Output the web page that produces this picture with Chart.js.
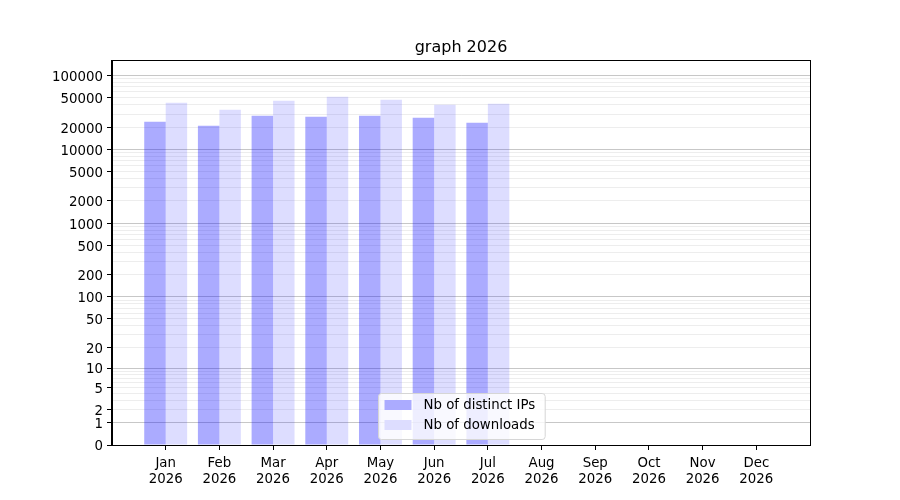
<!DOCTYPE html>
<html>
<head>
<meta charset="utf-8">
<title>graph 2026</title>
<script src="https://cdn.jsdelivr.net/npm/chart.js@4.4.1/dist/chart.umd.min.js"></script>
<style>
  html, body { margin: 0; padding: 0; background: #fff; }
  #wrap { width: 900px; height: 500px; }
</style>
</head>
<body>
<div id="wrap"><canvas id="graph"></canvas></div>
<script>
// values
const months = ['Jan', 'Feb', 'Mar', 'Apr', 'May', 'Jun', 'Jul', 'Aug', 'Sep', 'Oct', 'Nov', 'Dec'];
const yearLabel = '2026';
const distinctIps = [23600, 20900, 28500, 27600, 28500, 26800, 22900];
const downloads = [42700, 34400, 45500, 51500, 46900, 40200, 41400];
const yTickLabels = [0, 1, 2, 5, 10, 20, 50, 100, 200, 500, 1000, 2000, 5000, 10000, 20000, 50000, 100000];
const yMax = 161700;

const FONT = 'DejaVu Sans';

// the y axis is log10(v + 1), so data go through this before plotting
const tr = v => Math.log10(v + 1);

// every grid line: 0, then 1..9 of each decade
const yGrid = [0];
for (let d = 0; d <= 5; d++) {
  for (let k = 1; k <= 9; k++) {
    const v = k * Math.pow(10, d);
    if (v <= yMax) yGrid.push(v);
  }
}

const isDecade = v => v >= 1 && Math.abs(Math.log10(v) % 1) < 1e-9;

// legend in a box at the bottom centre of the plot, like matplotlib's
const boxLegend = {
  id: 'boxLegend',
  afterDraw(chart) {
    const { ctx, chartArea } = chart;
    const items = chart.data.datasets.map(ds => ({ label: ds.label, color: ds.backgroundColor }));
    ctx.save();
    ctx.font = '13.33px "' + FONT + '"';
    const textW = Math.max(...items.map(it => ctx.measureText(it.label).width));
    const w = 45 + textW + 10;
    const h = 46;
    const x = Math.round((chartArea.left + chartArea.right) / 2 - w / 2) + 0.5;
    const y = Math.round(chartArea.bottom - 6 - h) + 0.5;

    ctx.beginPath();
    if (ctx.roundRect) ctx.roundRect(x, y, w, h, 3);
    else ctx.rect(x, y, w, h);
    ctx.fillStyle = 'rgba(255,255,255,0.8)';
    ctx.fill();
    ctx.strokeStyle = '#d6d6d6';
    ctx.lineWidth = 1;
    ctx.stroke();

    ctx.textBaseline = 'middle';
    ctx.textAlign = 'left';
    items.forEach((it, i) => {
      const cy = y + 11.5 + i * 20;
      ctx.fillStyle = '#fff';
      ctx.fillRect(x + 6, cy - 5, 27, 10);
      ctx.fillStyle = it.color;
      ctx.fillRect(x + 6, cy - 5, 27, 10);
      ctx.fillStyle = '#000';
      ctx.fillText(it.label, x + 45, cy + 1);
    });
    ctx.restore();
  }
};

// black frame on all four sides
const frame = {
  id: 'frame',
  afterDatasetsDraw(chart) {
    const { ctx, chartArea } = chart;
    ctx.save();
    ctx.strokeStyle = '#000';
    ctx.lineWidth = 1;
    ctx.strokeRect(Math.round(chartArea.left) - 0.5, Math.round(chartArea.top) + 0.5,
      Math.round(chartArea.right - chartArea.left) + 1, Math.round(chartArea.bottom - chartArea.top));
    ctx.restore();
  }
};

const ctx = document.getElementById('graph');
const graph = new Chart(ctx, {
  type: 'bar',
  data: {
    datasets: [
      {
        label: 'Nb of distinct IPs',
        data: distinctIps.map((v, i) => ({ x: i + 1, y: tr(v) })),
        backgroundColor: 'rgba(0,0,255,0.33)',
        borderWidth: 0,
        categoryPercentage: 0.8,
        barPercentage: 1.0
      },
      {
        label: 'Nb of downloads',
        data: downloads.map((v, i) => ({ x: i + 1, y: tr(v) })),
        backgroundColor: 'rgba(0,0,255,0.135)',
        borderWidth: 0,
        categoryPercentage: 0.8,
        barPercentage: 1.0
      }
    ]
  },
  options: {
    responsive: true,
    maintainAspectRatio: false,
    animation: false,
    layout: { padding: { left: 0, right: 90, top: 0, bottom: 0 } },
    plugins: {
      legend: { display: false },
      tooltip: { enabled: false },
      title: {
        display: true,
        text: 'graph 2026',
        fullSize: false,
        color: '#000',
        font: { family: FONT, size: 16, weight: 'normal', lineHeight: 1.2 },
        padding: { top: 38, bottom: 2.8 }
      }
    },
    scales: {
      x: {
        type: 'linear',
        min: 0,
        max: 13,
        offset: false,
        afterBuildTicks: scale => {
          scale.ticks = months.map((m, i) => ({ value: i + 1 }));
        },
        afterFit: scale => { scale.height = 55; },
        ticks: {
          autoSkip: false,
          maxRotation: 0,
          padding: 6,
          color: '#000',
          font: { family: FONT, size: 13.33, lineHeight: 1.16 },
          callback: value => [months[value - 1], yearLabel]
        },
        grid: {
          offset: false,
          drawOnChartArea: false,
          drawTicks: true,
          tickLength: 5,
          tickColor: '#000'
        },
        border: { color: '#000', width: 1 }
      },
      y: {
        type: 'linear',
        min: 0,
        max: tr(yMax),
        afterBuildTicks: scale => {
          scale.ticks = yGrid.map(v => ({ value: tr(v), raw: v }));
        },
        afterFit: scale => { scale.width = 112; },
        ticks: {
          autoSkip: false,
          padding: 4,
          color: '#000',
          // an empty first line with a 4px line height nudges each label 2px down
          font: { family: FONT, size: 13.33, lineHeight: '4px' },
          callback: (value, index, ticks) => {
            const raw = ticks[index].raw;
            return yTickLabels.includes(raw) ? ['', String(raw)] : '';
          }
        },
        grid: {
          drawTicks: true,
          tickLength: 5,
          color: c => {
            const raw = c.tick ? c.tick.raw : null;
            if (raw === 0) return 'rgba(0,0,0,0)';
            return isDecade(raw) ? 'rgba(0,0,0,0.22)' : 'rgba(0,0,0,0.07)';
          },
          tickColor: c => (c.tick && yTickLabels.includes(c.tick.raw)) ? '#000' : 'rgba(0,0,0,0)'
        },
        border: { color: '#000', width: 1 }
      }
    }
  },
  plugins: [frame, boxLegend]
});
</script>
</body>
</html>
